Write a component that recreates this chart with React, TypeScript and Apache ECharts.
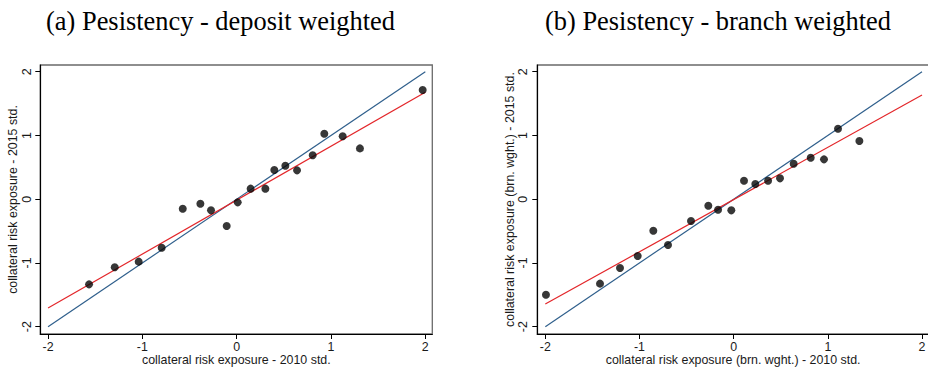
import React, { useEffect, useRef } from "react";
import * as echarts from "echarts";

// Panel (a): deposit weighted
const xA = [-1.565, -1.293, -1.039, -0.795, -0.572, -0.385, -0.272, -0.106, 0.011, 0.148, 0.304, 0.399, 0.516, 0.64, 0.806, 0.929, 1.124, 1.307, 1.972];
const yA = [-1.336, -1.069, -0.98, -0.761, -0.149, -0.071, -0.175, -0.421, -0.05, 0.165, 0.165, 0.458, 0.525, 0.452, 0.688, 1.027, 0.986, 0.797, 1.712];
const fitAX = [-2, 2];
const fitAY = [-1.708, 1.679];

// Panel (b): branch weighted
const xB = [-1.993, -1.419, -1.207, -1.019, -0.853, -0.697, -0.453, -0.269, -0.166, -0.025, 0.11, 0.23, 0.365, 0.492, 0.637, 0.818, 0.959, 1.108, 1.335];
const yB = [-1.498, -1.325, -1.08, -0.892, -0.494, -0.719, -0.342, -0.102, -0.165, -0.175, 0.29, 0.238, 0.29, 0.327, 0.557, 0.651, 0.625, 1.106, 0.912];
const fitBX = [-2, 2];
const fitBY = [-1.645, 1.634];

// 45-degree reference line
const diagX = [-2, 2];
const diagY = [-2, 2];

const ticks = [-2, -1, 0, 1, 2];

const titles = ["(a) Pesistency - deposit weighted", "(b) Pesistency - branch weighted"];
const xNames = ["collateral risk exposure - 2010 std.", "collateral risk exposure (brn. wght.) - 2010 std."];
const yNames = ["collateral risk exposure - 2015 std.", "collateral risk exposure (brn. wght.) - 2015 std."];

const SANS = "Liberation Sans, Arial, sans-serif";
const SERIF = "Liberation Serif, Times New Roman, serif";
const BLUE = "#2f5f8c";
const RED = "#e3262a";

const zip = (a: number[], b: number[]) => a.map((v, i) => [v, b[i]]);

export default function App() {
  const ref = useRef<HTMLDivElement>(null);
  useEffect(() => {
    if (!ref.current) return;
    const chart = echarts.init(ref.current, null, { renderer: "svg" });
    const grids = [
      { left: 40.3, top: 65, width: 392, height: 269 },
      { left: 537.3, top: 65, width: 391.7, height: 269 },
    ];
    const xRanges = [
      [-2.082, 2.074],
      [-2.085, 2.074],
    ];
    const yLabelMargin = [7, 8];
    const mkX = (i: number) => ({
      type: "value",
      gridIndex: i,
      min: xRanges[i][0],
      max: xRanges[i][1],
      name: xNames[i],
      nameLocation: "middle",
      nameGap: 20,
      nameMoveOverlap: false,
      nameTextStyle: { fontFamily: SANS, fontSize: 12.4, lineHeight: 12, color: "#1a1a1a" },
      axisLine: { show: true, onZero: false, lineStyle: { color: "#000", width: 1.2 } },
      axisTick: { show: true, customValues: ticks, length: 5, lineStyle: { color: "#000", width: 1 } },
      axisLabel: { customValues: ticks, margin: 8, lineHeight: 10, fontFamily: SANS, fontSize: 12.4, color: "#1a1a1a" },
      splitLine: { show: false },
    });
    const mkY = (i: number) => ({
      type: "value",
      gridIndex: i,
      min: -2.115,
      max: 2.105,
      name: yNames[i],
      nameLocation: "middle",
      nameRotate: 90,
      nameGap: 21,
      nameMoveOverlap: false,
      nameTextStyle: { fontFamily: SANS, fontSize: 12.4, color: "#1a1a1a" },
      axisLine: { show: true, onZero: false, lineStyle: { color: "#000", width: 1.2 } },
      axisTick: { show: true, customValues: ticks, length: 5, lineStyle: { color: "#000", width: 1 } },
      axisLabel: { customValues: ticks, rotate: 90, margin: yLabelMargin[i], fontFamily: SANS, fontSize: 12.4, color: "#1a1a1a" },
      splitLine: { show: false },
    });
    const series: any[] = [];
    const panels = [
      { x: xA, y: yA, fx: fitAX, fy: fitAY },
      { x: xB, y: yB, fx: fitBX, fy: fitBY },
    ];
    panels.forEach((p, i) => {
      series.push({
        type: "line",
        xAxisIndex: i,
        yAxisIndex: i,
        data: zip(diagX, diagY),
        showSymbol: false,
        lineStyle: { color: BLUE, width: 1.2 },
        z: 2,
      });
      series.push({
        type: "line",
        xAxisIndex: i,
        yAxisIndex: i,
        data: zip(p.fx, p.fy),
        showSymbol: false,
        lineStyle: { color: RED, width: 1.2 },
        z: 3,
      });
      series.push({
        type: "scatter",
        xAxisIndex: i,
        yAxisIndex: i,
        data: zip(p.x, p.y),
        symbolSize: 8,
        itemStyle: { color: "#050505" },
        z: 4,
      });
    });
    chart.setOption({
      animation: false,
      backgroundColor: "#fff",
      title: [
        {
          text: titles[0],
          left: 215.5,
          top: 3,
          textAlign: "center",
          textStyle: { fontFamily: SERIF, fontWeight: "normal", fontSize: 26.4, color: "#000" },
        },
        {
          text: titles[1],
          left: 713,
          top: 3,
          textAlign: "center",
          textStyle: { fontFamily: SERIF, fontWeight: "normal", fontSize: 26.4, color: "#000" },
        },
      ],
      grid: grids.map((g) => ({
        ...g,
        show: true,
        containLabel: false,
        outerBoundsMode: "none",
        borderColor: "#6a6a6a",
        borderWidth: 1.3,
        backgroundColor: "transparent",
      })),
      xAxis: [mkX(0), mkX(1)],
      yAxis: [mkY(0), mkY(1)],
      series,
    });
    return () => chart.dispose();
  }, []);
  return <div ref={ref} style={{ position: "fixed", left: 0, top: 0, width: 928, height: 369 }} />;
}
